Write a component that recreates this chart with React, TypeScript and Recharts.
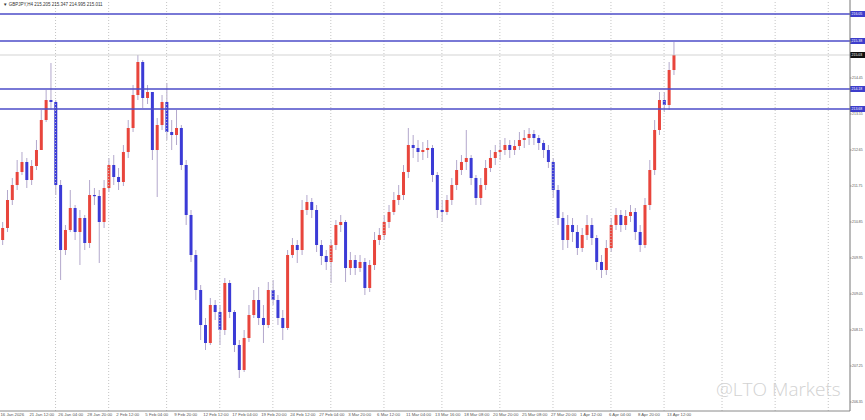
import React from "react";
import { ComposedChart, Bar, XAxis, YAxis, ReferenceLine } from "recharts";

// GBPJPY H4
const firstOpen = 210.4;
const closes = [
  210.7, 211.4, 211.775, 212.1, 212.35, 211.9, 212.25, 212.65, 213.4, 213.9,
  213.85, 211.775, 210.15, 210.65, 211.2, 210.6, 210.95, 210.325, 211.525, 211.5,
  210.85, 211.7, 212.275, 211.975, 211.85, 212.6, 213.2, 214.025, 214.85, 213.95,
  214.1, 212.65, 213.275, 213.85, 213.1, 213.025, 213.2, 212.275, 211.025, 210.025,
  209.15, 208.275, 207.825, 208.775, 208.6, 208.15, 209.325, 208.6, 207.775, 207.15,
  207.95, 208.525, 208.9, 208.45, 208.275, 209.15, 208.9, 208.45, 208.2, 210.025,
  210.275, 210.15, 211.15, 211.35, 211.15, 210.275, 210.0, 209.85, 210.275, 210.775,
  210.85, 209.7, 209.9, 209.7, 209.85, 209.2, 209.775, 210.4, 210.525, 210.85,
  211.1, 211.4, 211.525, 212.1, 212.775, 212.7, 212.6, 212.65, 212.7, 212.025,
  211.15, 211.1, 211.4, 211.775, 212.15, 212.35, 212.45, 211.95, 211.45, 211.775,
  212.2, 212.45, 212.6, 212.65, 212.775, 212.65, 212.75, 212.9, 212.95, 213.05,
  212.95, 212.825, 212.65, 212.35, 211.65, 210.95, 210.4, 210.775, 210.6, 210.2,
  210.525, 210.775, 210.45, 209.85, 209.65, 210.2, 210.775, 211.025, 210.775, 211.0,
  211.1, 210.6, 210.275, 211.275, 212.15, 213.15, 213.9, 213.775, 214.65, 215.025,
];
const highs = [
  210.85, 211.65, 211.95, 212.4, 212.6, 212.45, 212.4, 212.9, 213.65, 214.15,
  214.825, 213.9, 211.9, 210.775, 211.65, 211.275, 211.15, 211.025, 211.9, 211.7,
  211.65, 211.9, 212.45, 212.525, 212.2, 212.775, 213.4, 214.275, 215.025, 214.9,
  214.275, 214.1, 213.45, 214.025, 214.325, 213.4, 213.65, 213.275, 212.4, 211.15,
  210.15, 209.275, 208.45, 208.95, 208.9, 208.775, 209.45, 209.4, 208.65, 207.9,
  208.15, 208.775, 209.15, 209.225, 208.775, 209.35, 209.4, 209.025, 208.65, 210.15,
  210.45, 210.4, 211.4, 211.525, 211.45, 211.275, 210.4, 210.15, 210.4, 210.9,
  211.025, 210.9, 210.1, 210.025, 210.025, 209.95, 209.9, 210.6, 210.7, 211.025,
  211.275, 211.6, 211.775, 212.275, 213.2, 213.025, 212.9, 212.85, 212.9, 212.775,
  212.1, 211.4, 211.525, 211.95, 212.4, 212.525, 213.15, 212.525, 212.025, 211.95,
  212.4, 212.65, 212.775, 212.9, 212.95, 212.9, 212.9, 213.1, 213.15, 213.2,
  213.15, 213.025, 212.9, 212.775, 212.45, 211.775, 211.1, 211.025, 210.95, 210.775,
  210.7, 211.025, 210.95, 210.525, 210.025, 210.4, 210.95, 211.2, 211.15, 211.15,
  211.275, 211.2, 210.775, 211.45, 212.4, 213.4, 214.1, 214.1, 214.85, 215.35,
];
const lows = [
  210.275, 210.6, 211.275, 211.65, 212.025, 211.7, 211.775, 212.15, 212.65, 213.35,
  213.65, 211.525, 209.4, 210.025, 210.6, 210.4, 209.775, 210.15, 210.2, 211.275,
  209.825, 210.7, 211.6, 211.775, 211.65, 211.75, 212.45, 213.1, 213.9, 213.7,
  213.8, 212.4, 211.475, 213.15, 212.9, 212.65, 212.775, 212.15, 210.775, 209.85,
  208.9, 207.9, 207.65, 207.775, 208.4, 207.775, 208.025, 208.45, 207.6, 206.95,
  207.1, 207.85, 208.45, 208.275, 207.825, 208.2, 208.775, 208.275, 207.9, 208.15,
  209.95, 209.825, 210.025, 211.025, 210.95, 210.1, 209.775, 209.65, 209.325, 210.15,
  210.6, 209.35, 209.525, 209.525, 209.6, 209.025, 209.1, 209.65, 210.275, 210.4,
  210.7, 211.025, 211.275, 211.4, 211.95, 212.45, 212.35, 212.4, 212.45, 211.85,
  210.95, 210.85, 211.025, 211.275, 211.65, 212.025, 212.15, 211.775, 211.275, 211.275,
  211.65, 212.1, 212.275, 212.4, 212.525, 212.45, 212.525, 212.65, 212.7, 212.775,
  212.775, 212.65, 212.45, 212.2, 211.45, 210.775, 210.15, 210.2, 210.35, 210.025,
  210.1, 210.4, 210.275, 209.65, 209.45, 209.525, 210.1, 210.65, 210.6, 210.65,
  210.85, 210.4, 210.1, 210.2, 211.15, 212.025, 213.025, 213.6, 213.65, 214.525,
];

const dateLabels = [
  "16 Jan 2026", "21 Jan 12:00", "26 Jan 04:00", "28 Jan 20:00", "2 Feb 12:00", "5 Feb 04:00",
  "9 Feb 20:00", "12 Feb 12:00", "17 Feb 04:00", "19 Feb 20:00", "24 Feb 12:00", "27 Feb 04:00",
  "3 Mar 20:00", "6 Mar 12:00", "11 Mar 04:00", "13 Mar 16:00", "18 Mar 08:00", "20 Mar 20:00",
  "25 Mar 08:00", "27 Mar 20:00", "1 Apr 12:00", "6 Apr 04:00", "8 Apr 20:00", "13 Apr 12:00",
];
const priceTicks = [
  216.25, 215.8, 215.35, 214.9, 214.45, 214.0, 213.55, 213.1, 212.65, 212.2, 211.75, 211.3,
  210.85, 210.4, 209.95, 209.5, 209.05, 208.6, 208.15, 207.7, 207.25, 206.8, 206.35,
];
const levels = [216.05, 215.375, 214.175, 213.675];
const lastPrice = 215.025;
const gridBars = [11, 22, 34, 45, 56, 68, 79, 91, 103, 114, 126, 137, 149, 160, 171];

const SLOTS = 176;
const BARS_PER_LABEL = 6;
const UP = "#e8453c";
const DOWN = "#3b3bd6";
const WICK = "#b3a8cc";
const LEVEL = "#4c4cc8";

const data = Array.from({ length: SLOTS }, (_, i) => {
  if (i >= closes.length) return { i };
  const open = i === 0 ? firstOpen : closes[i - 1];
  return { i, open, close: closes[i], high: highs[i], low: lows[i], range: [lows[i], highs[i]] };
});
const labelTicks = dateLabels.map((_, k) => k * BARS_PER_LABEL);
const boxed = [...levels, lastPrice];

function Candle(props: any) {
  const { x, y, width, height, payload } = props;
  if (!payload || payload.high == null) return null;
  const { open, close, high, low } = payload;
  const top0 = Math.min(y, y + height);
  const h = Math.abs(height);
  const span = high - low || 1;
  const py = (v: number) => top0 + ((high - v) / span) * h;
  const up = close >= open;
  const cx = x + width / 2;
  const bTop = py(Math.max(open, close));
  const bBot = py(Math.min(open, close));
  return (
    <g>
      <line x1={cx} x2={cx} y1={top0} y2={top0 + h} stroke={WICK} strokeWidth={1} />
      <rect x={x} y={bTop} width={width} height={Math.max(bBot - bTop, 1.2)} fill={up ? UP : DOWN} />
    </g>
  );
}

function DateTick({ x, y, payload }: any) {
  const label = dateLabels[payload.value / BARS_PER_LABEL];
  return (
    <text x={x - 2} y={y + 5} fontSize={4.3} fill="#555" textAnchor="start" fontFamily="Liberation Sans">
      {label}
    </text>
  );
}

function PriceTick({ x, y, payload }: any) {
  // the coloured price boxes hide the scale labels underneath them
  if (boxed.some((b) => Math.abs(b - payload.value) < 0.1)) return null;
  return (
    <text x={x + 0.5} y={y + 1.3} fontSize={3.5} fill="#555" textAnchor="start" fontFamily="Liberation Sans">
      {payload.value.toFixed(2)}
    </text>
  );
}

function axisBox(value: number, fill: string) {
  return (props: any) => {
    const vb = props.viewBox;
    if (!vb) return null;
    const x = vb.x + vb.width;
    return (
      <g>
        <rect x={x} y={vb.y - 3} width={15} height={6} fill={fill} />
        <text x={x + 1.5} y={vb.y + 1.3} fontSize={3.5} fill="#fff" fontFamily="Liberation Sans">
          {value.toFixed(2)}
        </text>
      </g>
    );
  };
}

export default function App() {
  return (
    <div style={{ position: "relative", width: 865, height: 420, background: "#fff", overflow: "hidden" }}>
      <style>{"body{margin:0}"}</style>
      <ComposedChart width={865} height={420} data={data} margin={{ top: 0, right: 0, bottom: 0, left: 0 }} barCategoryGap="24%">
        <XAxis
          dataKey="i"
          type="category"
          ticks={labelTicks}
          interval={0}
          tick={<DateTick />}
          tickLine={false}
          tickSize={0}
          tickMargin={0}
          axisLine={{ stroke: "#8a8a8a" }}
          height={9}
        />
        <YAxis
          orientation="right"
          type="number"
          domain={[206.125, 216.4]}
          allowDataOverflow
          ticks={priceTicks}
          tick={<PriceTick />}
          tickSize={1.5}
          tickMargin={0}
          tickLine={{ stroke: "#888" }}
          axisLine={{ stroke: "#777" }}
          width={15}
        />
        {gridBars.map((g) => (
          <ReferenceLine key={g} x={g} stroke="#c4c4c4" strokeDasharray="1 2" />
        ))}
        <ReferenceLine y={lastPrice} stroke="#c8c8c8" strokeWidth={0.8} label={axisBox(lastPrice, "#111")} />
        <Bar dataKey="range" shape={<Candle />} isAnimationActive={false} />
        {levels.map((lv) => (
          <ReferenceLine key={lv} y={lv} stroke={LEVEL} strokeWidth={1.6} label={axisBox(lv, "#3d3dcc")} />
        ))}
      </ComposedChart>
      <div
        style={{
          position: "absolute",
          left: 3,
          top: 2,
          fontSize: 4.5,
          color: "#333",
          fontFamily: "Liberation Sans",
          whiteSpace: "nowrap",
        }}
      >
        ▼ GBPJPY,H4 215.205 215.347 214.995 215.011
      </div>
      <div
        style={{
          position: "absolute",
          left: 716,
          top: 376,
          fontSize: 19,
          color: "#d2d2d2",
          fontFamily: "Open Sans",
          fontWeight: 300,
          whiteSpace: "nowrap",
        }}
      >
        @LTO Markets
      </div>
    </div>
  );
}
